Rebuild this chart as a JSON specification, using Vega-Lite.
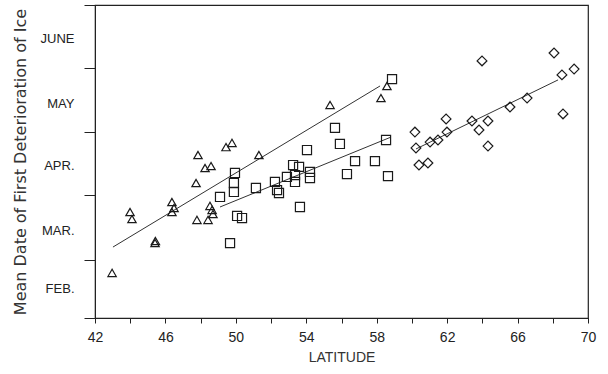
{
  "$schema": "https://vega.github.io/schema/vega-lite/v6.json",
  "width": 493,
  "height": 313,
  "autosize": {"type": "none"},
  "padding": {"left": 95, "top": 5, "right": 20, "bottom": 56},
  "background": "white",
  "config": {
    "view": {"stroke": "#222", "strokeWidth": 1.2},
    "axis": {"grid": false, "domainColor": "#222", "tickColor": "#222", "labelColor": "#222", "titleColor": "#333", "labelFont": "Liberation Sans", "titleFont": "Liberation Sans", "titleFontWeight": "normal"}
  },
  "datasets": {
    "pts": [
      {"lat": 42.97, "day": 53.6, "g": "tri"},
      {"lat": 43.99, "day": 82.8, "g": "tri"},
      {"lat": 44.10, "day": 79.4, "g": "tri"},
      {"lat": 45.41, "day": 67.9, "g": "tri"},
      {"lat": 45.43, "day": 68.9, "g": "tri"},
      {"lat": 46.37, "day": 87.6, "g": "tri"},
      {"lat": 46.49, "day": 84.7, "g": "tri"},
      {"lat": 46.37, "day": 82.8, "g": "tri"},
      {"lat": 47.74, "day": 96.7, "g": "tri"},
      {"lat": 47.79, "day": 79.0, "g": "tri"},
      {"lat": 47.85, "day": 110.1, "g": "tri"},
      {"lat": 48.25, "day": 103.9, "g": "tri"},
      {"lat": 48.59, "day": 104.8, "g": "tri"},
      {"lat": 48.42, "day": 79.0, "g": "tri"},
      {"lat": 48.53, "day": 85.7, "g": "tri"},
      {"lat": 48.65, "day": 83.8, "g": "tri"},
      {"lat": 48.70, "day": 81.8, "g": "tri"},
      {"lat": 49.44, "day": 113.9, "g": "tri"},
      {"lat": 49.78, "day": 115.9, "g": "tri"},
      {"lat": 51.31, "day": 110.1, "g": "tri"},
      {"lat": 55.35, "day": 134.1, "g": "tri"},
      {"lat": 58.58, "day": 143.2, "g": "tri"},
      {"lat": 58.24, "day": 137.4, "g": "tri"},
      {"lat": 58.87, "day": 146.5, "g": "sq"},
      {"lat": 55.63, "day": 123.1, "g": "sq"},
      {"lat": 55.91, "day": 115.4, "g": "sq"},
      {"lat": 54.04, "day": 112.5, "g": "sq"},
      {"lat": 56.77, "day": 107.2, "g": "sq"},
      {"lat": 57.90, "day": 107.2, "g": "sq"},
      {"lat": 56.31, "day": 101.0, "g": "sq"},
      {"lat": 58.64, "day": 100.0, "g": "sq"},
      {"lat": 58.53, "day": 117.3, "g": "sq"},
      {"lat": 53.64, "day": 85.2, "g": "sq"},
      {"lat": 49.95, "day": 101.5, "g": "sq"},
      {"lat": 49.89, "day": 96.7, "g": "sq"},
      {"lat": 49.89, "day": 92.4, "g": "sq"},
      {"lat": 49.10, "day": 90.0, "g": "sq"},
      {"lat": 51.14, "day": 94.3, "g": "sq"},
      {"lat": 52.22, "day": 97.2, "g": "sq"},
      {"lat": 52.34, "day": 93.3, "g": "sq"},
      {"lat": 52.45, "day": 91.9, "g": "sq"},
      {"lat": 52.90, "day": 99.6, "g": "sq"},
      {"lat": 53.25, "day": 105.3, "g": "sq"},
      {"lat": 53.59, "day": 104.4, "g": "sq"},
      {"lat": 53.36, "day": 97.2, "g": "sq"},
      {"lat": 54.21, "day": 102.0, "g": "sq"},
      {"lat": 54.21, "day": 99.1, "g": "sq"},
      {"lat": 50.07, "day": 80.9, "g": "sq"},
      {"lat": 50.35, "day": 79.9, "g": "sq"},
      {"lat": 49.67, "day": 67.9, "g": "sq"},
      {"lat": 53.36, "day": 100.5, "g": "sq"},
      {"lat": 68.07, "day": 159.0, "g": "dia"},
      {"lat": 69.21, "day": 151.3, "g": "dia"},
      {"lat": 68.52, "day": 148.5, "g": "dia"},
      {"lat": 68.58, "day": 129.8, "g": "dia"},
      {"lat": 63.98, "day": 155.2, "g": "dia"},
      {"lat": 66.54, "day": 137.4, "g": "dia"},
      {"lat": 65.57, "day": 133.1, "g": "dia"},
      {"lat": 64.32, "day": 126.4, "g": "dia"},
      {"lat": 63.41, "day": 126.4, "g": "dia"},
      {"lat": 63.81, "day": 122.1, "g": "dia"},
      {"lat": 64.32, "day": 114.4, "g": "dia"},
      {"lat": 61.94, "day": 127.4, "g": "dia"},
      {"lat": 61.99, "day": 121.1, "g": "dia"},
      {"lat": 61.48, "day": 117.3, "g": "dia"},
      {"lat": 61.03, "day": 116.3, "g": "dia"},
      {"lat": 60.17, "day": 121.1, "g": "dia"},
      {"lat": 60.23, "day": 113.5, "g": "dia"},
      {"lat": 60.40, "day": 105.3, "g": "dia"},
      {"lat": 60.91, "day": 106.3, "g": "dia"}
    ],
    "fits": [
      {"lat": 43.02, "day": 66.0, "g": "tri"},
      {"lat": 58.19, "day": 143.2, "g": "tri"},
      {"lat": 49.10, "day": 85.2, "g": "sq"},
      {"lat": 58.81, "day": 118.7, "g": "sq"},
      {"lat": 60.23, "day": 113.0, "g": "dia"},
      {"lat": 68.30, "day": 146.1, "g": "dia"}
    ]
  },
  "encoding": {
    "x": {
      "field": "lat", "type": "quantitative",
      "scale": {"domain": [42, 70], "nice": false, "zero": false},
      "axis": {
        "title": "LATITUDE",
        "values": [42, 44, 46, 48, 50, 52, 54, 56, 58, 60, 62, 64, 66, 68, 70],
        "labelExpr": "datum.value % 4 == 2 ? datum.label : ''",
        "tickSize": 5,
        "labelPadding": 7,
        "labelFontSize": 14,
        "labelOverlap": false,
        "labelBound": false,
        "labelFlush": false,
        "titleFontSize": 14,
        "titleBaseline": "alphabetic",
        "titleY": 43
      }
    },
    "y": {
      "field": "day", "type": "quantitative",
      "scale": {"domain": [32, 182], "nice": false, "zero": false},
      "axis": {
        "title": "Mean Date of First Deterioration of Ice",
        "values": [32, 46, 60, 74, 91, 105, 121, 135, 152, 166, 182],
        "labelExpr": "datum.value == 46 ? 'FEB.' : datum.value == 74 ? 'MAR.' : datum.value == 105 ? 'APR.' : datum.value == 135 ? 'MAY' : datum.value == 166 ? 'JUNE' : ''",
        "tickOpacity": {"condition": {"test": "indexof([32, 60, 91, 121, 152, 182], datum.value) >= 0", "value": 1}, "value": 0},
        "tickSize": 11,
        "labelPadding": 10,
        "labelFontSize": 13,
        "labelOverlap": false,
        "labelBound": false,
        "labelFlush": false,
        "titleFont": "DejaVu Sans",
        "titleFontSize": 16,
        "titleBaseline": "alphabetic",
        "titleX": -70
      }
    }
  },
  "layer": [
    {
      "data": {"name": "fits"},
      "mark": {"type": "line", "color": "#333", "strokeWidth": 1},
      "encoding": {"detail": {"field": "g"}}
    },
    {
      "data": {"name": "pts"},
      "mark": {"type": "point", "filled": false, "stroke": "#1a1a1a", "strokeWidth": 1.2, "opacity": 1},
      "encoding": {
        "shape": {
          "field": "g", "type": "nominal",
          "scale": {"domain": ["tri", "sq", "dia"], "range": ["triangle-up", "square", "diamond"]},
          "legend": null
        },
        "size": {
          "field": "g", "type": "nominal",
          "scale": {"domain": ["tri", "sq", "dia"], "range": [70, 95, 70]},
          "legend": null
        }
      }
    }
  ]
}
